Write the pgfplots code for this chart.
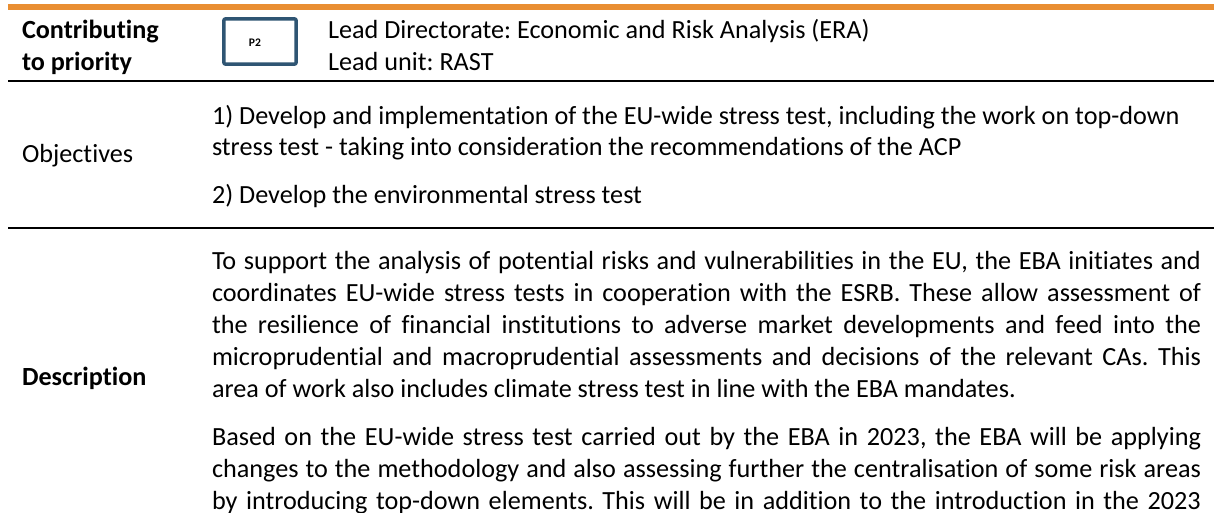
\documentclass[border=0pt]{standalone}
\usepackage{fontspec}
\setmainfont{Carlito}[Ligatures=NoCommon]
\usepackage{pgfplots}
\pgfplotsset{compat=1.18}
\definecolor{ebaorange}{HTML}{E98E32}
\definecolor{ebablue}{HTML}{2F5573}
\newcommand\tf{\fontsize{26.2bp}{32bp}\selectfont\frenchspacing}
\newcommand\jl[1]{\makebox[989bp][s]{#1}}
\begin{document}
\frenchspacing
\begin{tikzpicture}[tx/.style={inner sep=0pt, outer sep=0pt, anchor=base west, font=\tf},
  tb/.style={inner sep=0pt, outer sep=0pt, anchor=base west, font=\tf\bfseries}]
\begin{axis}[hide axis, scale only axis, width=1214bp, height=513bp,
  xmin=0, xmax=1214, ymin=0, ymax=513, y dir=reverse, clip=false]
\path (axis cs:0,0) rectangle (axis cs:1214,513);
% rules
\addplot[ebaorange, line width=6bp, forget plot] coordinates {(8,7) (1214,7)};
\addplot[black, line width=1.2bp, forget plot] coordinates {(8,81) (1214,81)};
\addplot[black, line width=2.6bp, forget plot] coordinates {(8,228) (1214,228)};
% P2 box
\addplot[ebablue, line width=3.5bp, fill=white, rounded corners=2bp, forget plot]
  coordinates {(223.8,18.8) (296.2,18.8) (296.2,64.2) (223.8,64.2)} -- cycle;
\node[inner sep=0pt, anchor=center, font=\fontsize{11.6bp}{13bp}\selectfont\bfseries] at (axis cs:255,43) {P2};
% header
\node[tb] at (axis cs:22,39) {Contributing};
\node[tb] at (axis cs:22,71) {to priority};
\node[tx] at (axis cs:328,39) {Lead Directorate: Economic and Risk Analysis (ERA)};
\node[tx] at (axis cs:328,71) {Lead unit: RAST};
% objectives
\node[tx] at (axis cs:22,162) {Objectives};
\node[tx] at (axis cs:212,124) {1) Develop and implementation of the EU-wide stress test, including the work on top-down};
\node[tx] at (axis cs:212,155) {stress test - taking into consideration the recommendations of the ACP};
\node[tx] at (axis cs:212,203) {2) Develop the environmental stress test};
% description
\node[tb] at (axis cs:22,385) {Description};
\node[tx] at (axis cs:212,269) {\jl{To support the analysis of potential risks and vulnerabilities in the EU, the EBA initiates and}};
\node[tx] at (axis cs:212,301) {\jl{coordinates EU-wide stress tests in cooperation with the ESRB. These allow assessment of}};
\node[tx] at (axis cs:212,333) {\jl{the resilience of financial institutions to adverse market developments and feed into the}};
\node[tx] at (axis cs:212,365) {\jl{microprudential and macroprudential assessments and decisions of the relevant CAs. This}};
\node[tx] at (axis cs:212,397) {area of work also includes climate stress test in line with the EBA mandates.};
\node[tx] at (axis cs:212,445) {\jl{Based on the EU-wide stress test carried out by the EBA in 2023, the EBA will be applying}};
\node[tx] at (axis cs:212,477) {\jl{changes to the methodology and also assessing further the centralisation of some risk areas}};
\node[tx] at (axis cs:212,509) {\jl{by introducing top-down elements. This will be in addition to the introduction in the 2023}};
\end{axis}
\pgfresetboundingbox
\path (0,0) rectangle (1214bp,513bp);
\end{tikzpicture}
\end{document}
